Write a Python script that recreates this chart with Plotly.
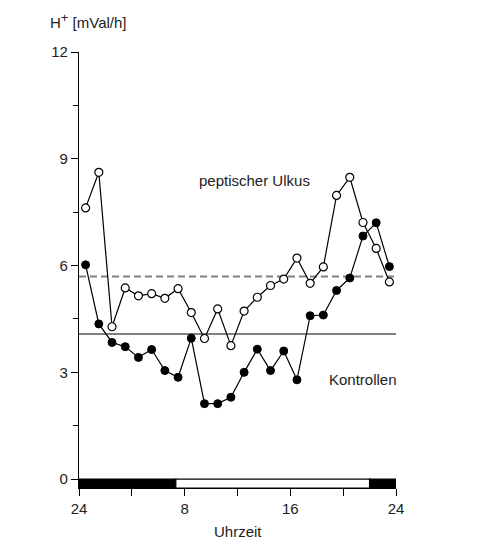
import plotly.graph_objects as go

hours = [0.5 + i for i in range(24)]
ulkus = [7.62, 8.62, 4.28, 5.37, 5.15, 5.21, 5.08, 5.35, 4.68, 3.95, 4.78, 3.75,
         4.72, 5.11, 5.44, 5.62, 6.21, 5.50, 5.96, 7.97, 8.48, 7.21, 6.48, 5.54]
kontrollen = [6.02, 4.36, 3.84, 3.72, 3.42, 3.64, 3.05, 2.86, 3.96, 2.12, 2.12, 2.30,
              3.00, 3.65, 3.05, 3.60, 2.79, 4.59, 4.61, 5.30, 5.65, 6.83, 7.20, 5.97]
mean_kontrollen = 4.08
mean_ulkus = 5.69
night_end = 7.33
night_start = 22.0
x_tickvals = [0, 8, 16, 24]
x_ticktext = ["24", "8", "16", "24"]
y_tickvals = [0, 3, 6, 9, 12]

FONT = "Liberation Sans, Arial, sans-serif"
GREY = "#808080"
TXT = "#222"

fig = go.Figure()

fig.add_trace(go.Scatter(
    x=[0, 24], y=[mean_ulkus, mean_ulkus], mode="lines",
    line=dict(color=GREY, width=2, dash="7px,4px"), hoverinfo="skip"))
fig.add_trace(go.Scatter(
    x=[0, 24], y=[mean_kontrollen, mean_kontrollen], mode="lines",
    line=dict(color=GREY, width=2), hoverinfo="skip"))

fig.add_trace(go.Scatter(
    x=hours, y=kontrollen, mode="lines+markers",
    line=dict(color="black", width=1.2),
    marker=dict(symbol="circle", size=8, color="black",
                line=dict(color="black", width=1))))
fig.add_trace(go.Scatter(
    x=hours, y=ulkus, mode="lines+markers",
    line=dict(color="black", width=1.2),
    marker=dict(symbol="circle", size=8, color="white",
                line=dict(color="black", width=1.2))))

# day/night bar
for x0, x1, col in [(0, night_end, "black"), (night_end, night_start, "white"),
                    (night_start, 24, "black")]:
    fig.add_shape(type="rect", x0=x0, x1=x1, y0=-0.25, y1=0,
                  fillcolor=col, line=dict(color="black", width=1.2), layer="above")

fig.add_annotation(x=13.25, y=8.4, text="peptischer Ulkus", showarrow=False,
                   font=dict(size=15, color=TXT))
fig.add_annotation(x=21.5, y=2.81, text="Kontrollen", showarrow=False,
                   font=dict(size=15, color=TXT))
fig.add_annotation(xref="paper", yref="paper", x=-0.098, y=1.073,
                   xanchor="left", yanchor="middle",
                   text="H<sup><span style='font-size:13px'>+</span></sup> [mVal/h]",
                   showarrow=False, font=dict(size=15, color=TXT))
fig.add_annotation(x=12, xref="x", yref="paper", y=-0.1008, yanchor="middle",
                   text="Uhrzeit", showarrow=False, font=dict(size=15, color=TXT))

fig.update_layout(
    width=486, height=560,
    margin=dict(l=71, r=98, t=44, b=80),
    paper_bgcolor="white", plot_bgcolor="white",
    showlegend=False,
    font=dict(family=FONT, size=14, color=TXT),
    xaxis=dict(range=[0, 24], showgrid=False, zeroline=False,
               showline=True, linecolor="black", linewidth=1.2,
               tickvals=x_tickvals, ticktext=x_ticktext,
               tickfont=dict(size=15),
               ticks="outside", ticklen=7, tickcolor="black", tickwidth=1.2,
               minor=dict(dtick=4, tick0=0, ticks="outside", ticklen=7,
                          tickcolor="black", tickwidth=1.2, showgrid=False)),
    yaxis=dict(range=[-0.25, 12], showgrid=False, zeroline=False,
               showline=True, linecolor="black", linewidth=1.2,
               tickvals=y_tickvals, tickfont=dict(size=15),
               ticks="outside", ticklen=7, tickcolor="black", tickwidth=1.2,
               minor=dict(dtick=1.5, tick0=0, ticks="outside", ticklen=5,
                          tickcolor="black", tickwidth=1.2, showgrid=False)),
)

fig.write_html("out.html")
